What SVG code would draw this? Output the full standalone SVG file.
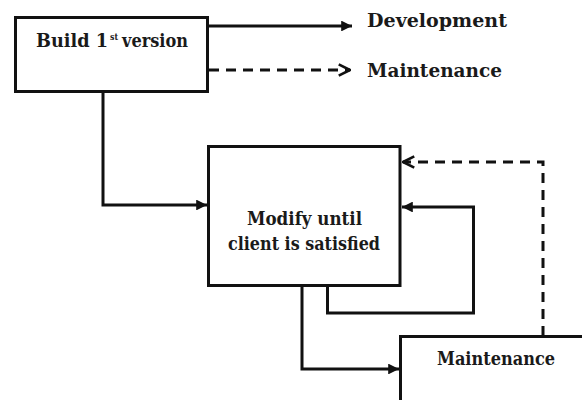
<svg xmlns="http://www.w3.org/2000/svg" width="582" height="400" viewBox="0 0 582 400">
  <defs>
    <style>
      .box { fill: #ffffff; stroke: #111111; stroke-width: 3; }
      .wire { fill: none; stroke: #111111; stroke-width: 3; }
      .dash { fill: none; stroke: #111111; stroke-width: 3; stroke-dasharray: 10 7; }
      text { font-family: "DejaVu Serif", "Liberation Serif", serif; font-weight: bold; font-size: 18px; fill: #1a1a1a; }
    </style>
    <marker id="solidHead" viewBox="0 0 10 10" refX="10" refY="5" markerWidth="4" markerHeight="3.6" orient="auto" markerUnits="strokeWidth">
      <path d="M0,0 L10,5 L0,10 Z" fill="#111111"/>
    </marker>
    <marker id="openHead" viewBox="0 0 12 12" refX="11" refY="6" markerWidth="4.5" markerHeight="4.5" orient="auto" markerUnits="strokeWidth">
      <path d="M1,1 L11,6 L1,11" fill="none" stroke="#111111" stroke-width="2.4"/>
    </marker>
  </defs>

  <rect width="582" height="400" fill="#ffffff"/>

  <!-- connectors -->
  <g id="connectors">
    <!-- legend: solid = development, dashed = maintenance -->
    <path class="wire" d="M208,26 H352" marker-end="url(#solidHead)"/>
    <path class="dash" d="M209,70 H350" marker-end="url(#openHead)"/>
    <!-- build -> modify -->
    <path class="wire" d="M103,92 V205 H207" marker-end="url(#solidHead)"/>
    <!-- modify loop -->
    <path class="wire" d="M327.5,286 V313 H473.5 V207 H402" marker-end="url(#solidHead)"/>
    <!-- modify -> maintenance -->
    <path class="wire" d="M302,286 V369 H399" marker-end="url(#solidHead)"/>
    <!-- maintenance -> modify (dashed) -->
    <path class="dash" d="M543,336 V162 H403" marker-end="url(#openHead)"/>
  </g>

  <g id="build">
    <rect class="box" x="15.5" y="17.5" width="192" height="74"/>
    <text><tspan x="36" y="47" textLength="72" lengthAdjust="spacingAndGlyphs">Build 1</tspan><tspan x="110" y="40" font-size="10" textLength="8" lengthAdjust="spacingAndGlyphs">st</tspan><tspan x="122" y="47" textLength="66" lengthAdjust="spacingAndGlyphs">version</tspan></text>
  </g>

  <g id="legend-development">
    <text x="367" y="27" textLength="140" lengthAdjust="spacingAndGlyphs">Development</text>
  </g>

  <g id="legend-maintenance">
    <text x="367" y="77" textLength="135" lengthAdjust="spacingAndGlyphs">Maintenance</text>
  </g>

  <g id="modify">
    <rect class="box" x="208.5" y="146.5" width="191.5" height="139"/>
    <text x="247" y="225" textLength="115" lengthAdjust="spacingAndGlyphs">Modify until</text>
    <text x="228" y="250" textLength="152" lengthAdjust="spacingAndGlyphs">client is satisfied</text>
  </g>

  <g id="maintenance">
    <rect class="box" x="400.5" y="336.5" width="200" height="100"/>
    <text x="437" y="365" font-size="16" textLength="118" lengthAdjust="spacingAndGlyphs">Maintenance</text>
  </g>
</svg>
